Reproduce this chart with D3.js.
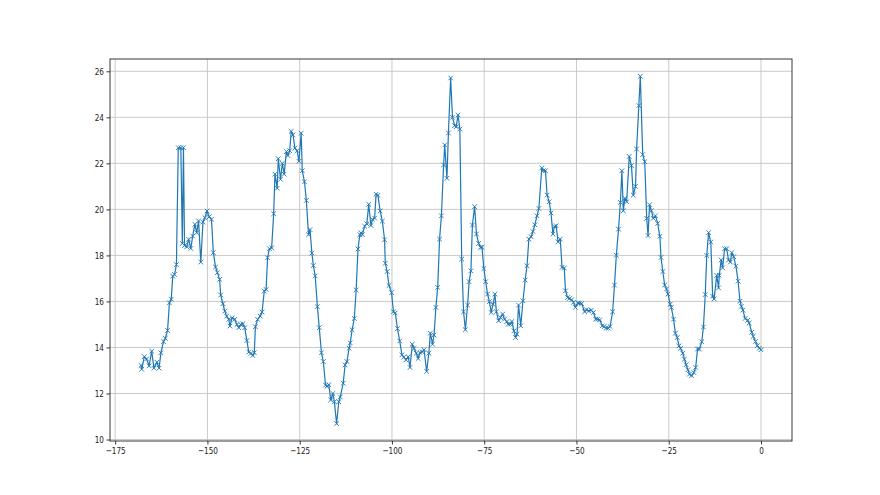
<!DOCTYPE html>
<html>
<head>
<meta charset="utf-8">
<script src="https://cdn.jsdelivr.net/npm/d3@7"></script>
<style>
  body { margin: 0; background: #fff; }
  svg { display: block; }
  .tick text { font-family: "DejaVu Sans", sans-serif; font-size: 9.6px; fill: #222; }
</style>
</head>
<body>
<svg id="chart"></svg>
<script>
// values
const xs = [
  -168.0, -167.8, -167.1, -166.5, -165.8, -165.1, -164.5, -163.7, -163.1, -162.6,
  -161.9, -161.4, -160.8, -160.3, -159.8, -159.4, -158.9, -158.4, -157.9, -157.2,
  -156.8, -156.5, -156.2, -155.6, -155.1, -154.5, -154.0, -153.4, -152.9, -152.4,
  -151.8, -151.2, -150.7, -150.1, -149.5, -148.9, -148.4, -147.8, -147.3, -146.7,
  -146.4, -145.8, -145.3, -144.8, -144.2, -143.9, -143.3, -142.6, -142.0, -141.5,
  -141.0, -140.4, -139.9, -139.3, -138.8, -138.2, -137.7, -137.3, -137.0, -136.4,
  -135.7, -135.2, -134.6, -134.1, -133.7, -133.2, -132.6,
  -132.05, -131.7, -131.1, -130.8, -130.2, -129.7, -129.2, -128.6, -128.2, -127.7,
  -127.3, -126.8, -126.3, -125.7, -125.2, -124.6, -124.3, -123.7, -123.2, -122.6,
  -122.2, -121.7, -121.3, -120.8, -120.2, -119.7, -119.1, -118.6, -118.0, -117.6,
  -117.1, -116.6, -116.0, -115.6, -115.0, -114.4, -114.0, -113.2, -112.7, -112.2,
  -111.6, -111.3, -110.8, -110.2, -109.7, -109.2, -108.7, -108.4, -108.0, -107.4,
  -106.8, -106.3, -105.7, -105.3, -104.7, -104.3, -103.8, -103.2, -102.6, -102.0,
  -101.8, -101.3, -100.8, -100.1, -99.6, -99.1, -98.5, -97.9, -97.3, -96.8, -96.2,
  -95.6, -95.1, -94.5, -94.0, -93.4, -92.9, -92.4, -91.8, -91.3, -90.6,
  -90.0, -89.6, -89.0, -88.6, -88.1, -87.6, -87.1, -86.6, -86.0, -85.7,
  -85.1, -84.7, -84.1, -83.6, -83.0, -82.6, -82.1, -81.6, -81.1, -80.6,
  -80.1, -79.5, -79.1, -78.6, -78.2, -77.6, -77.1, -76.5, -76.0, -75.6,
  -75.1, -74.6, -74.1, -73.6, -73.1, -72.6, -72.1, -71.7, -71.1, -70.6,
  -70.0, -69.5, -68.9, -68.5, -67.9, -67.5, -66.95, -66.5, -66.1, -65.7,
  -65.1, -64.5, -63.9, -63.4, -62.9, -62.3, -61.8, -61.3, -60.7, -60.2,
  -59.4, -59.0, -58.4, -57.96, -57.4, -56.9, -56.4, -55.97, -55.5, -55.0,
  -54.4, -53.9, -53.3, -52.98, -52.4, -51.9, -51.3, -50.8, -50.3, -49.6,
  -49.2, -48.6, -47.8, -47.3, -46.7, -46.0, -45.4, -44.8, -44.3, -43.7,
  -43.0, -42.5, -41.95, -41.4, -40.9,
  -40.2, -39.7, -39.2, -38.6, -38.1, -37.7, -37.3, -36.9, -36.4, -35.7,
  -35.1, -34.6, -34.0, -33.7, -33.1, -32.7, -32.05, -31.5, -30.97, -30.6,
  -30.2, -29.7, -29.2, -28.6, -28.0, -27.4, -27.1, -26.6, -26.1, -25.6,
  -25.2, -24.6, -24.3, -23.7, -23.2, -22.7, -22.2, -21.8, -21.2, -20.75,
  -20.3, -19.8, -19.4, -18.8, -18.2, -17.7, -17.2, -16.7, -16.05,
  -15.6, -15.1, -14.7, -14.2, -13.6, -13.1, -12.7, -12.0, -11.5, -11.3,
  -10.8, -10.4, -9.86, -9.3, -8.8, -8.3, -7.9, -7.4, -6.8, -6.2,
  -5.7, -5.3, -4.9, -4.3, -3.6, -3.2, -2.5, -2.1, -1.5, -0.99, -0.45, 0
];
const ys = [
  13.22, 13.05, 13.6, 13.5, 13.2, 13.84, 13.1, 13.36, 13.1, 13.77,
  14.25, 14.4, 14.74, 15.94, 16.1, 17.1, 17.17, 17.6, 22.68, 22.68,
  18.52, 22.68, 18.43, 18.38, 18.7, 18.3, 18.84, 19.35, 18.99, 19.5,
  17.71, 19.45, 19.64, 19.93, 19.68, 19.57, 18.12, 17.49, 17.25, 16.96,
  16.28, 15.9, 15.58, 15.36, 15.22, 14.93, 15.29, 15.22, 15.0, 14.86,
  15.0, 15.03, 14.86, 14.3, 13.8, 13.74, 13.65, 13.77, 14.9, 15.22,
  15.36, 15.54, 16.45, 16.52, 17.9, 18.29, 18.33,
  19.81, 21.53, 20.92, 22.2, 21.31, 22.0, 21.53, 22.51, 22.34, 22.55,
  23.39, 23.24, 22.66, 22.55, 22.09, 23.31, 21.68, 21.2, 20.39, 18.9,
  19.12, 18.1, 17.56, 17.11, 15.77, 14.86, 13.77, 13.39, 12.36, 12.31,
  12.38, 11.72, 12.0, 11.64, 10.69, 11.64, 11.85, 12.45, 13.24, 13.39,
  13.97, 14.2, 14.77, 15.26, 16.5, 18.28, 18.9, 18.98, 18.9, 19.27,
  19.37, 20.22, 19.3, 19.56, 19.62, 20.66, 20.61, 19.93, 19.49, 18.68,
  17.66, 17.3, 16.69, 16.38, 15.55, 15.5, 14.82, 14.28, 13.68, 13.58, 13.46,
  13.59, 13.13, 14.14, 13.96, 13.75, 13.52, 13.78, 13.81, 13.9, 12.96,
  13.75, 14.62, 14.14, 14.54, 15.74, 16.61, 18.71, 19.72, 21.93, 22.8,
  21.35, 23.32, 25.71, 24.0, 23.64, 23.59, 24.1, 23.49, 17.84, 15.55,
  14.77, 15.84, 16.86, 17.33, 19.32, 20.12, 18.93, 18.52, 18.35, 18.35,
  17.43, 16.86, 16.32, 15.99, 15.52, 15.88, 16.32, 15.55, 15.16, 15.3,
  15.45, 15.23, 15.12, 15.01, 15.01, 15.13, 14.72, 14.43, 14.58, 15.84,
  14.94, 16.03, 16.93, 17.55, 18.71, 18.81, 19.04, 19.33, 19.72, 20.04,
  21.8, 21.68, 21.68, 20.62, 20.33, 19.84, 18.93, 19.25, 19.29, 18.59,
  18.71, 17.48, 17.45, 16.46, 16.17, 16.13, 16.07, 15.96, 15.74, 15.93,
  15.93, 15.91, 15.55, 15.64, 15.59, 15.62, 15.52, 15.23, 15.23, 15.2,
  14.94, 14.91, 14.84, 14.84, 14.91,
  15.55, 16.71, 18.01, 19.14, 20.3, 21.68, 19.94, 20.48, 20.33, 22.3,
  21.9, 20.62, 21.0, 22.62, 24.51, 25.78, 22.38, 22.07, 19.61, 18.86,
  20.2, 19.94, 19.61, 19.72, 19.39, 18.83, 17.91, 17.3, 16.71, 16.54,
  16.32, 15.88, 15.74, 15.23, 14.62, 14.43, 14.07, 13.96, 13.75, 13.49,
  13.25, 13.03, 12.84, 12.77, 12.91, 13.13, 13.93, 13.93, 14.25,
  14.89, 16.3, 18.0, 18.99, 18.58, 16.23, 16.11, 17.13, 16.59, 17.13,
  17.8, 17.46, 18.29, 18.29, 17.8, 17.71, 18.12, 17.94, 17.53, 16.88,
  16.01, 15.79, 15.62, 15.26, 15.18, 15.06, 14.66, 14.48, 14.26, 14.08, 13.97, 13.9
];
const xTicks = [-175, -150, -125, -100, -75, -50, -25, 0];
const yTicks = [10, 12, 14, 16, 18, 20, 22, 24, 26];

const data = xs.map((x, i) => ({ x: x, y: ys[i] }));

const width = 880, height = 495;
const margin = { top: 59, right: 88, bottom: 54, left: 110 };
const iw = width - margin.left - margin.right;
const ih = height - margin.top - margin.bottom;

// matplotlib style 5% margins
function padded(ext) {
  const d = (ext[1] - ext[0]) * 0.05;
  return [ext[0] - d, ext[1] + d];
}

const x = d3.scaleLinear().domain(padded(d3.extent(xs))).range([0, iw]);
const y = d3.scaleLinear().domain(padded(d3.extent(ys))).range([ih, 0]);

const svg = d3.select("#chart").attr("width", width).attr("height", height);
const g = svg.append("g").attr("transform", `translate(${margin.left},${margin.top})`);

// grid
g.append("g").selectAll("line").data(xTicks).enter().append("line")
  .attr("x1", d => x(d)).attr("x2", d => x(d))
  .attr("y1", 0).attr("y2", ih)
  .attr("stroke", "#c4c4c4").attr("stroke-width", 0.9);
g.append("g").selectAll("line").data(yTicks).enter().append("line")
  .attr("x1", 0).attr("x2", iw)
  .attr("y1", d => y(d)).attr("y2", d => y(d))
  .attr("stroke", "#c4c4c4").attr("stroke-width", 0.9);

// line + x markers
const line = d3.line().x(d => x(d.x)).y(d => y(d.y));
g.append("path")
  .datum(data)
  .attr("fill", "none")
  .attr("stroke", "#1f77b4")
  .attr("stroke-width", 1.2)
  .attr("stroke-linejoin", "round")
  .attr("d", line);

const m = 2.3;
g.append("g").selectAll("path").data(data).enter().append("path")
  .attr("d", d => {
    const cx = x(d.x), cy = y(d.y);
    return `M${cx - m},${cy - m}L${cx + m},${cy + m}M${cx - m},${cy + m}L${cx + m},${cy - m}`;
  })
  .attr("stroke", "#1f77b4")
  .attr("stroke-width", 0.9)
  .attr("fill", "none");

// axes
const sx = 0.76;
const xAxis = g.append("g")
  .attr("transform", `translate(0,${ih})`)
  .call(d3.axisBottom(x).tickValues(xTicks).tickSize(3.5).tickPadding(3));
xAxis.select(".domain").remove();
xAxis.selectAll(".tick line").attr("stroke", "#222").attr("stroke-width", 0.9);
xAxis.selectAll(".tick text").attr("transform", `scale(${sx},1)`);

const yAxis = g.append("g")
  .call(d3.axisLeft(y).tickValues(yTicks).tickSize(3.5).tickPadding(2.5));
yAxis.select(".domain").remove();
yAxis.selectAll(".tick line").attr("stroke", "#222").attr("stroke-width", 0.9);
yAxis.selectAll(".tick text")
  .attr("x", -6 / sx)
  .attr("transform", `scale(${sx},1)`);

// spines
g.append("rect")
  .attr("x", 0).attr("y", 0).attr("width", iw).attr("height", ih)
  .attr("fill", "none").attr("stroke", "#222").attr("stroke-width", 0.9);
</script>
</body>
</html>
